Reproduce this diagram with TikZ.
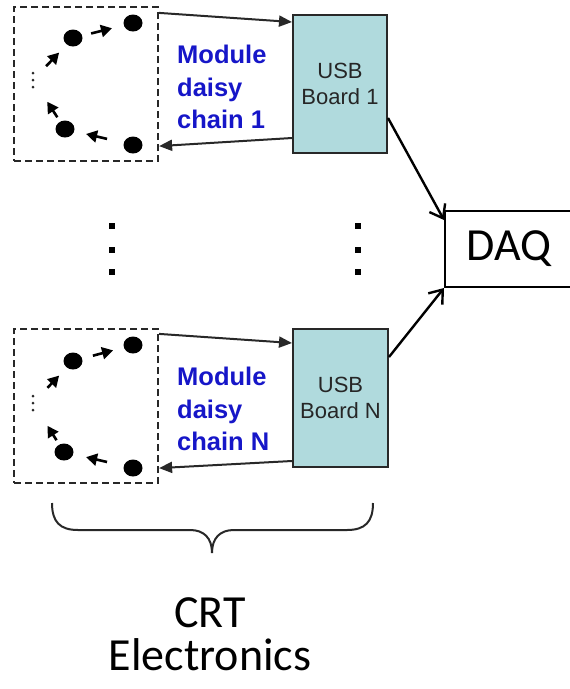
\documentclass[tikz,border=0pt]{standalone}
\usepackage{fontspec}
\setmainfont{Liberation Sans}
\newfontfamily\calib{Carlito}
\usetikzlibrary{arrows.meta,shapes.geometric}
\definecolor{usbfill}{RGB}{176,218,221}
\definecolor{modblue}{RGB}{22,22,200}
\definecolor{lineg}{RGB}{40,40,40}
\begin{document}
\begin{tikzpicture}[x=1pt,y=-1pt,
  chainbox/.style={draw=lineg, dash pattern=on 7pt off 4pt, line width=2.2pt, minimum width=144pt, minimum height=154pt, inner sep=0pt},
  usbbox/.style={draw=lineg, fill=usbfill, line width=2pt, minimum width=94pt, minimum height=138pt, align=center, font=\fontsize{22}{26}\selectfont, text=black!85, inner sep=0pt},
  module/.style={fill=black, ellipse, minimum width=19pt, minimum height=17pt, inner sep=0pt},
  hop/.style={line width=2.6pt, -{Triangle[length=11pt,width=12pt]}},
  link/.style={draw=lineg, line width=2pt, -{Triangle[length=13pt,width=11pt]}},
  daqlink/.style={line width=2.4pt, -{Straight Barb[length=12pt,width=18pt]}},
  chaintext/.style={text=modblue, font=\bfseries\fontsize{25.5}{32.5}\selectfont, align=left, inner sep=0pt, anchor=north west},
  bigtext/.style={font=\calib\fontsize{46}{43}\selectfont, align=center, inner sep=0pt}
]
\useasboundingbox (0,0) rectangle (570,689);

% chain 1
\node[chainbox] (box1) at (86,84) {};
\node[module] (m1a) at (133,23) {};
\node[module] (m1b) at (73,38) {};
\node[module] (m1c) at (65,129) {};
\node[module] (m1d) at (133,145) {};
\coordinate (e1) at (33,80);
\fill[lineg] (33,73) circle (1.5pt) (33,80) circle (1.5pt) (33,87) circle (1.5pt);
\draw[hop, shorten <=19pt, shorten >=11pt] (e1) -- (m1b);
\draw[hop, shorten <=9pt, shorten >=12pt] (m1b) -- (m1a);
\draw[hop, shorten <=17pt, shorten >=12pt] (m1d) -- (m1c);
\draw[hop, shorten <=5pt, shorten >=26pt] (m1c) -- (e1);
\node[chaintext] (t1) at (177,45) {Module\\daisy\\chain 1};
\node[usbbox] (usb1) at (340,84) {USB\\Board 1};

% chain N
\node[chainbox] (boxN) at (86,406) {};
\node[module] (mNa) at (133,345) {};
\node[module] (mNb) at (73,361) {};
\node[module] (mNc) at (64,452) {};
\node[module] (mNd) at (133,468) {};
\coordinate (e2) at (33,403);
\fill[lineg] (33,396) circle (1.5pt) (33,403) circle (1.5pt) (33,410) circle (1.5pt);
\draw[hop, shorten <=21pt, shorten >=11pt] (e2) -- (mNb);
\draw[hop, shorten <=11pt, shorten >=11pt] (mNb) -- (mNa);
\draw[hop, shorten <=17pt, shorten >=13pt] (mNd) -- (mNc);
\draw[hop, shorten <=5pt, shorten >=27pt] (mNc) -- (e2);
\node[chaintext] (tN) at (177,367) {Module\\daisy\\chain N};
\node[usbbox, minimum width=95pt] (usbN) at (340.5,398) {USB\\Board N};

% links
\draw[link] ([yshift=-7pt]box1.north east) -- ([yshift=-8pt]usb1.north west);
\draw[link] ([yshift=16pt]usb1.south west) -- ([yshift=16pt]box1.south east);
\draw[link] ([yshift=-6pt]boxN.north east) -- ([yshift=-15pt]usbN.north west);
\draw[link] ([yshift=7pt]usbN.south west) -- ([yshift=16pt]boxN.south east);

% DAQ
\node[draw, line width=2pt, minimum width=128pt, minimum height=76pt, inner sep=0pt, font=\calib\fontsize{46}{46}\selectfont] (daq) at (509,249) {DAQ};
\draw[daqlink] ([yshift=36pt]usb1.south east) -- ([yshift=-10pt]daq.north west);
\draw[daqlink] ([yshift=-29pt]usbN.north east) -- (daq.south west);

% vertical dots
\foreach \yy in {226,250,272} {
  \fill (112-3,\yy-3) rectangle ++(6,6);
  \fill (358-3,\yy-3) rectangle ++(6,6);
}

% brace
\draw[line width=2pt, lineg] (52,503) .. controls (52,522) and (60,530) .. (78,530) -- (190,530) .. controls (204,530) and (212,538) .. (212,553) .. controls (212,538) and (220,530) .. (234,530) -- (347,530) .. controls (365,530) and (373,522) .. (373,503);

\node[bigtext] (crt) at (210,634) {CRT\\Electronics};
\end{tikzpicture}
\end{document}
